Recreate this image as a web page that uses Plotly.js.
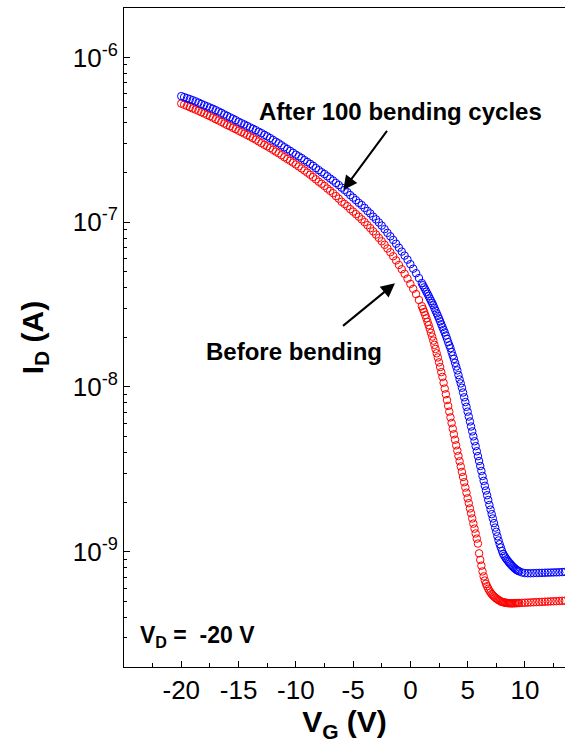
<!DOCTYPE html>
<html>
<head>
<meta charset="utf-8">
<script src="https://cdn.plot.ly/plotly-3.0.1.min.js"></script>
<style>html,body{margin:0;padding:0;background:#fff;}#chart{width:565px;height:756px;}</style>
</head>
<body>
<div id="chart"></div>
<script>
// Gate voltage sample points (V)
var vg = [
-20,-19.75,-19.5,-19.25,-19,-18.75,-18.5,-18.25,-18,-17.75,-17.5,-17.25,-17,-16.75,-16.5,-16.25,-16,-15.75,-15.5,-15.25,-15,
-14.75,-14.5,-14.25,-14,-13.75,-13.5,-13.25,-13,-12.75,-12.5,-12.25,-12,-11.75,-11.5,-11.25,-11,-10.75,-10.5,-10.25,-10,
-9.75,-9.5,-9.25,-9,-8.75,-8.5,-8.25,-8,-7.75,-7.5,-7.25,-7,-6.75,-6.5,-6.25,-6,-5.75,-5.5,-5.25,-5,
-4.75,-4.5,-4.25,-4,-3.75,-3.5,-3.25,-3,-2.75,-2.5,-2.25,-2,-1.75,-1.5,-1.25,-1,-0.75,-0.5,-0.25,0,0.25,0.5,0.75,1,
1.1,1.2,1.3,1.4,1.5,1.6,1.7,1.8,1.9,2.0,2.1,2.2,2.3,2.4,2.5,2.6,2.7,2.8,2.9,3.0,
3.1,3.2,3.3,3.4,3.5,3.6,3.7,3.8,3.9,4.0,4.1,4.2,4.3,4.4,4.5,4.6,4.7,4.8,4.9,5.0,
5.1,5.2,5.3,5.4,5.5,5.6,5.7,5.8,5.9,6.0,6.1,6.2,6.3,6.4,6.5,6.6,6.7,6.8,6.9,7.0,
7.1,7.2,7.3,7.4,7.5,7.6,7.7,7.8,7.9,8.0,8.1,8.2,8.3,8.4,8.5,8.6,8.7,8.8,8.9,9.0,
9.1,9.2,9.3,9.4,9.5,
9.75,10,10.25,10.5,10.75,11,11.25,11.5,11.75,12,12.25,12.5,12.75,13,13.25,13.5
];

// Drain current, before bending (A)
var idBefore = [
5.25e-7,5.16e-7,5.08e-7,4.99e-7,4.90e-7,4.82e-7,4.74e-7,4.65e-7,4.57e-7,4.48e-7,4.40e-7,4.31e-7,4.22e-7,
4.14e-7,4.06e-7,3.97e-7,3.89e-7,3.82e-7,3.74e-7,3.67e-7,3.59e-7,3.52e-7,3.45e-7,3.38e-7,3.31e-7,
3.24e-7,3.17e-7,3.09e-7,3.02e-7,2.95e-7,2.89e-7,2.82e-7,2.75e-7,2.68e-7,2.62e-7,2.55e-7,2.48e-7,
2.42e-7,2.36e-7,2.30e-7,2.24e-7,2.18e-7,2.12e-7,2.06e-7,2.00e-7,1.94e-7,1.88e-7,1.82e-7,1.76e-7,
1.71e-7,1.66e-7,1.60e-7,1.55e-7,1.50e-7,1.44e-7,1.39e-7,1.33e-7,1.29e-7,1.25e-7,1.20e-7,1.16e-7,
1.12e-7,1.08e-7,1.04e-7,1.00e-7,9.60e-8,9.20e-8,8.80e-8,8.41e-8,8.03e-8,7.66e-8,7.29e-8,6.92e-8,
6.57e-8,6.21e-8,5.86e-8,5.50e-8,5.18e-8,4.86e-8,4.54e-8,4.22e-8,3.94e-8,3.66e-8,3.37e-8,3.09e-8,
2.97e-8,2.85e-8,2.73e-8,2.61e-8,2.48e-8,2.37e-8,2.25e-8,2.13e-8,2.02e-8,1.91e-8,
1.80e-8,1.70e-8,1.60e-8,1.51e-8,1.41e-8,1.32e-8,1.23e-8,1.15e-8,1.06e-8,9.77e-9,
9.02e-9,8.32e-9,7.67e-9,7.08e-9,6.53e-9,6.04e-9,5.58e-9,5.16e-9,4.78e-9,4.42e-9,
4.10e-9,3.81e-9,3.54e-9,3.29e-9,3.05e-9,2.84e-9,2.64e-9,2.45e-9,2.28e-9,2.11e-9,
1.97e-9,1.83e-9,1.71e-9,1.59e-9,1.48e-9,1.38e-9,1.29e-9,1.20e-9,1.12e-9,9.77e-10,
8.91e-10,8.22e-10,7.59e-10,7.08e-10,6.68e-10,6.38e-10,6.17e-10,5.96e-10,5.79e-10,5.65e-10,
5.53e-10,5.43e-10,5.35e-10,5.27e-10,5.20e-10,5.14e-10,5.08e-10,5.04e-10,4.99e-10,4.95e-10,
4.93e-10,4.92e-10,4.90e-10,4.89e-10,4.87e-10,4.87e-10,4.86e-10,4.86e-10,4.86e-10,4.86e-10,
4.87e-10,4.87e-10,4.87e-10,4.88e-10,4.88e-10,
4.89e-10,4.90e-10,4.91e-10,4.92e-10,4.93e-10,4.94e-10,4.95e-10,4.96e-10,4.97e-10,4.98e-10,
4.99e-10,5.00e-10,5.01e-10,5.02e-10,5.03e-10,5.04e-10
];

// Drain current, after 100 bending cycles (A)
var idAfter = [
5.82e-7,5.74e-7,5.66e-7,5.58e-7,5.50e-7,5.41e-7,5.32e-7,5.22e-7,5.13e-7,5.05e-7,4.96e-7,4.88e-7,4.79e-7,
4.70e-7,4.61e-7,4.51e-7,4.42e-7,4.33e-7,4.25e-7,4.16e-7,4.07e-7,3.99e-7,3.92e-7,3.84e-7,3.76e-7,
3.69e-7,3.62e-7,3.54e-7,3.47e-7,3.39e-7,3.32e-7,3.24e-7,3.16e-7,3.08e-7,3.01e-7,2.93e-7,2.85e-7,
2.78e-7,2.71e-7,2.64e-7,2.57e-7,2.51e-7,2.45e-7,2.38e-7,2.32e-7,2.26e-7,2.20e-7,2.13e-7,2.07e-7,
2.01e-7,1.96e-7,1.90e-7,1.84e-7,1.79e-7,1.73e-7,1.68e-7,1.62e-7,1.57e-7,1.52e-7,1.46e-7,1.41e-7,
1.36e-7,1.31e-7,1.27e-7,1.22e-7,1.17e-7,1.13e-7,1.08e-7,1.04e-7,9.96e-8,9.53e-8,9.07e-8,8.61e-8,
8.21e-8,7.80e-8,7.40e-8,7.00e-8,6.63e-8,6.27e-8,5.92e-8,5.56e-8,5.22e-8,4.90e-8,4.58e-8,4.27e-8,
4.14e-8,4.02e-8,3.90e-8,3.78e-8,3.67e-8,3.56e-8,3.44e-8,3.33e-8,3.23e-8,3.13e-8,
3.01e-8,2.90e-8,2.80e-8,2.70e-8,2.60e-8,2.50e-8,2.40e-8,2.31e-8,2.22e-8,2.14e-8,
2.05e-8,1.96e-8,1.87e-8,1.79e-8,1.72e-8,1.63e-8,1.55e-8,1.48e-8,1.40e-8,1.33e-8,
1.26e-8,1.18e-8,1.11e-8,1.05e-8,9.89e-9,9.25e-9,8.65e-9,8.09e-9,7.57e-9,7.08e-9,
6.61e-9,6.17e-9,5.75e-9,5.37e-9,5.01e-9,4.68e-9,4.37e-9,4.07e-9,3.80e-9,3.55e-9,
3.31e-9,3.09e-9,2.88e-9,2.69e-9,2.51e-9,2.35e-9,2.20e-9,2.06e-9,1.92e-9,1.80e-9,
1.69e-9,1.59e-9,1.49e-9,1.40e-9,1.32e-9,1.24e-9,1.17e-9,1.11e-9,1.06e-9,1.01e-9,
9.70e-10,9.44e-10,9.20e-10,8.99e-10,8.81e-10,8.63e-10,8.47e-10,8.32e-10,8.17e-10,8.04e-10,
7.93e-10,7.82e-10,7.73e-10,7.66e-10,7.59e-10,
7.48e-10,7.41e-10,7.40e-10,7.40e-10,7.41e-10,7.42e-10,7.43e-10,7.44e-10,7.45e-10,7.46e-10,
7.47e-10,7.48e-10,7.49e-10,7.50e-10,7.52e-10,7.54e-10
];

// Axis ticks
var xTickVals = [-20,-15,-10,-5,0,5,10];
var xTickText = ["-20","-15","-10","-5","0","5","10"];
var yTickVals = [1e-9,1e-8,1e-7,1e-6];
var yTickText = ["10<sup>-9</sup>","10<sup>-8</sup>","10<sup>-7</sup>","10<sup>-6</sup>"];
var yMinorVals = [3e-10,4e-10,5e-10,6e-10,7e-10,8e-10,9e-10,
  2e-9,3e-9,4e-9,5e-9,6e-9,7e-9,8e-9,9e-9,
  2e-8,3e-8,4e-8,5e-8,6e-8,7e-8,8e-8,9e-8,
  2e-7,3e-7,4e-7,5e-7,6e-7,7e-7,8e-7,9e-7];

var FONT = "Arial, 'Liberation Sans', sans-serif";

var traces = [
  {x: vg, y: idBefore, type: 'scatter', mode: 'markers', name: 'Before bending',
   marker: {symbol: 'circle-open', size: 7.5, color: '#ff0000', line: {width: 1, color: '#ff0000'}}},
  {x: vg, y: idAfter, type: 'scatter', mode: 'markers', name: 'After 100 bending cycles',
   marker: {symbol: 'circle-open', size: 7.5, color: '#0000ff', line: {width: 1, color: '#0000ff'}}}
];

var layout = {
  width: 565, height: 756,
  margin: {l: 124, r: 0, t: 8, b: 89},
  paper_bgcolor: '#ffffff', plot_bgcolor: '#ffffff',
  showlegend: false,
  font: {family: FONT, color: '#000000'},
  xaxis: {
    range: [-25, 13.5], tickvals: xTickVals, ticktext: xTickText,
    ticks: 'inside', ticklen: 6, tickwidth: 1, tickcolor: '#000',
    minor: {dtick: 2.5, tick0: 0, ticks: 'inside', ticklen: 4, tickwidth: 1, tickcolor: '#000', showgrid: false},
    showline: true, linecolor: '#000', linewidth: 1, mirror: true,
    showgrid: false, zeroline: false,
    tickfont: {size: 26, family: FONT},
    title: {text: '<b>V<sub>G</sub> (V)</b>', font: {size: 30, family: FONT}, standoff: 6}
  },
  yaxis: {
    type: 'log', range: [-9.70, -5.70],
    tickvals: yTickVals, ticktext: yTickText,
    ticks: 'inside', ticklen: 6, tickwidth: 1, tickcolor: '#000',
    minor: {tickvals: yMinorVals, ticks: 'inside', ticklen: 3, tickwidth: 1, tickcolor: '#000', showgrid: false},
    showline: true, linecolor: '#000', linewidth: 1, mirror: false,
    showgrid: false, zeroline: false,
    tickfont: {size: 26, family: FONT},
    title: {text: '<b>I<sub>D</sub> (A)</b>', font: {size: 30, family: FONT}, standoff: 20}
  },
  annotations: [
    {xref: 'paper', yref: 'paper', x: 0.628, y: 0.8427, text: '<b>After 100 bending cycles</b>',
     showarrow: false, font: {size: 24, family: FONT}, xanchor: 'center', yanchor: 'middle'},
    {xref: 'paper', yref: 'paper', x: 0.4973, y: 0.7238, text: ' ', showarrow: true,
     ax: 46.7, ay: -63.3, arrowhead: 2, arrowsize: 1.4, arrowwidth: 2, arrowcolor: '#000', standoff: 0},
    {xref: 'paper', yref: 'paper', x: 0.3855, y: 0.4785, text: '<b>Before bending</b>',
     showarrow: false, font: {size: 24, family: FONT}, xanchor: 'center', yanchor: 'middle'},
    {xref: 'paper', yref: 'paper', x: 0.6145, y: 0.5822, text: ' ', showarrow: true,
     ax: -55, ay: 45, arrowhead: 2, arrowsize: 1.4, arrowwidth: 2, arrowcolor: '#000', standoff: 0},
    {xref: 'paper', yref: 'paper', x: 0.031, y: 0.046, text: '<b>V<sub>D</sub> =  -20 V</b>',
     showarrow: false, font: {size: 23, family: FONT}, xanchor: 'left', yanchor: 'middle'}
  ]
};

Plotly.newPlot('chart', traces, layout, {staticPlot: true, displayModeBar: false});
</script>
</body>
</html>
